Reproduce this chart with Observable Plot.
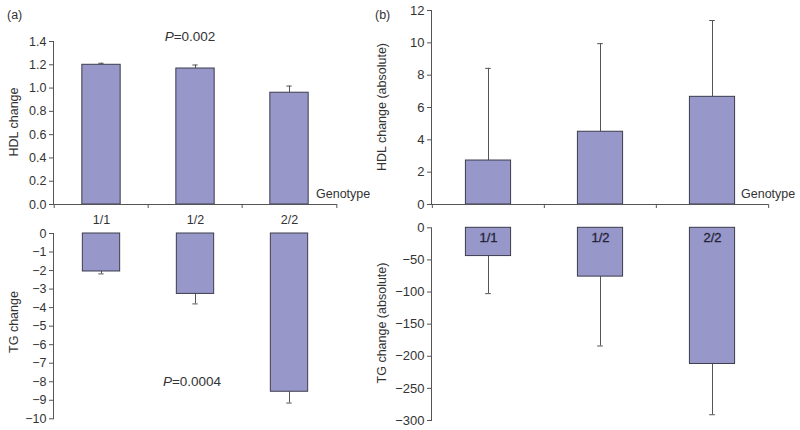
<!DOCTYPE html>
<html>
<head>
<meta charset="utf-8">
<script src="https://cdn.jsdelivr.net/npm/d3@7"></script>
<script src="https://cdn.jsdelivr.net/npm/@observablehq/plot@0.6"></script>
<style>
  html, body { margin: 0; padding: 0; background: #fff; }
  #wrap { position: relative; width: 800px; height: 430px; overflow: hidden; font-family: "Liberation Sans", Arial, sans-serif; color: #333; }
  .pl { position: absolute; top: 0; width: 400px; height: 430px; }
  .pl svg { overflow: visible; }
  .t { position: absolute; white-space: nowrap; transform: translate(-50%, -50%); line-height: 1; }
  .l { position: absolute; white-space: nowrap; transform: translate(0, -50%); line-height: 1; }
  .r { position: absolute; white-space: nowrap; transform: translate(-50%, -50%) rotate(-90deg); line-height: 1; font-size: 12.5px; }
</style>
</head>
<body>
<div id="wrap">
  <div class="pl" id="aTop" style="left:0"></div>
  <div class="pl" id="aBot" style="left:0"></div>
  <div class="pl" id="bTop" style="left:400px"></div>
  <div class="pl" id="bBot" style="left:400px"></div>

  <div class="l" style="left:7px; top:15px; font-size:12.5px;">(a)</div>
  <div class="l" style="left:375px; top:15px; font-size:12.5px;">(b)</div>
  <div class="t" style="left:190px; top:37px; font-size:13.5px;"><i>P</i>=0.002</div>
  <div class="t" style="left:192px; top:382px; font-size:13.5px;"><i>P</i>=0.0004</div>
  <div class="l" style="left:316px; top:194px; font-size:12.5px;">Genotype</div>
  <div class="l" style="left:741px; top:194px; font-size:12.5px;">Genotype</div>
  <div class="r" style="left:14px; top:122px;">HDL change</div>
  <div class="r" style="left:14px; top:322px;">TG change</div>
  <div class="r" style="left:382px; top:107px;">HDL change (absolute)</div>
  <div class="r" style="left:382px; top:323px;">TG change (absolute)</div>
</div>
<script>
// ---- data ----
const genotypes = ["1/1", "1/2", "2/2"];
const hdlChange = [1.20, 1.168, 0.96];
const hdlChangeErr = [0.013, 0.030, 0.057];
const tgChange = [-2.05, -3.26, -8.54];
const tgChangeErr = [0.13, 0.54, 0.61];
const hdlAbs = [2.72, 4.50, 6.66];
const hdlAbsErr = [5.70, 5.45, 4.72];
const tgAbs = [-44, -76, -212];
const tgAbsErr = [58.5, 108, 79];

const hdlTicks = [0, 0.2, 0.4, 0.6, 0.8, 1.0, 1.2, 1.4];
const tgTicks = [0, -1, -2, -3, -4, -5, -6, -7, -8, -9, -10];
const hdlAbsTicks = [0, 2, 4, 6, 8, 10, 12];
const tgAbsTicks = [0, -50, -100, -150, -200, -250, -300];

const FILL = "#9797c9";
const EDGE = "#3c3c4c";
const AXIS = "#555";
const FONT = "Liberation Sans, Arial, sans-serif";

function panel(cfg) {
  const W = 400, H = 430;
  const bw = (W - cfg.ml - cfg.mr) / genotypes.length;
  const rows = genotypes.map((g, i) => ({
    g, v: cfg.values[i], e: cfg.values[i] + cfg.dir * cfg.errs[i]
  }));
  const inset = (bw - cfg.barW) / 2;
  const capInset = (bw - 6) / 2;
  const marks = [
    Plot.ruleX(rows, {x: "g", y1: "v", y2: "e", stroke: AXIS, strokeWidth: 1}),
    Plot.tickY(rows, {x: "g", y: "e", stroke: AXIS, strokeWidth: 1, insetLeft: capInset, insetRight: capInset}),
    Plot.barY(rows, {x: "g", y: "v", fill: FILL, stroke: EDGE, strokeWidth: 1, insetLeft: inset, insetRight: inset}),
    Plot.frame({anchor: "left", stroke: AXIS}),
    Plot.axisY({ticks: cfg.ticks, tickFormat: d3.format(cfg.fmt), tickSize: 4, tickPadding: 3, fontSize: cfg.fs, label: null, stroke: AXIS})
  ];
  if (cfg.baseline) {
    marks.push(Plot.ruleY([0], {stroke: AXIS}));
    marks.push(Plot.ruleX(genotypes, {x: d => d, y1: 0, y2: 0, dx: -bw / 2, insetBottom: -4, stroke: AXIS}));
    marks.push(Plot.ruleX([genotypes[genotypes.length - 1]], {x: d => d, y1: 0, y2: 0, dx: bw / 2, insetBottom: -4, stroke: AXIS}));
  }
  if (cfg.xLabels) {
    marks.push(Plot.axisX({tickSize: 0, tickPadding: 11, fontSize: 12.5, label: null}));
  }
  if (cfg.inLabels) {
    marks.push(Plot.text(rows, {x: "g", y: 0, text: "g", dy: 10, fontSize: 13, fill: "#23233a", stroke: "#23233a", strokeWidth: 0.3}));
  }
  return Plot.plot({
    width: W, height: H,
    marginLeft: cfg.ml, marginRight: cfg.mr, marginTop: cfg.mt, marginBottom: cfg.mb,
    x: {domain: genotypes, padding: 0, ...(cfg.xLabels ? {} : {axis: null})},
    y: {domain: cfg.domain},
    style: {fontFamily: FONT, fontSize: "12px", color: "#333", background: "transparent", overflow: "visible"},
    marks
  });
}

document.getElementById("aTop").append(panel({
  ml: 53, mr: 63, mt: 41, mb: 226, domain: [0, 1.4], ticks: hdlTicks, fmt: ".1f", fs: 12.5,
  values: hdlChange, errs: hdlChangeErr, dir: 1, barW: 39, baseline: true, xLabels: true
}));
document.getElementById("aBot").append(panel({
  ml: 53, mr: 63, mt: 233, mb: 11.7, domain: [-10, 0], ticks: tgTicks, fmt: "d", fs: 12.5,
  values: tgChange, errs: tgChangeErr, dir: -1, barW: 38
}));
document.getElementById("bTop").append(panel({
  ml: 31, mr: 32, mt: 10, mb: 226, domain: [0, 12], ticks: hdlAbsTicks, fmt: "d", fs: 13,
  values: hdlAbs, errs: hdlAbsErr, dir: 1, barW: 45.5, baseline: true
}));
document.getElementById("bBot").append(panel({
  ml: 31, mr: 32, mt: 227.3, mb: 10, domain: [-300, 0], ticks: tgAbsTicks, fmt: "d", fs: 13,
  values: tgAbs, errs: tgAbsErr, dir: -1, barW: 45.5, inLabels: true
}));
</script>
</body>
</html>
